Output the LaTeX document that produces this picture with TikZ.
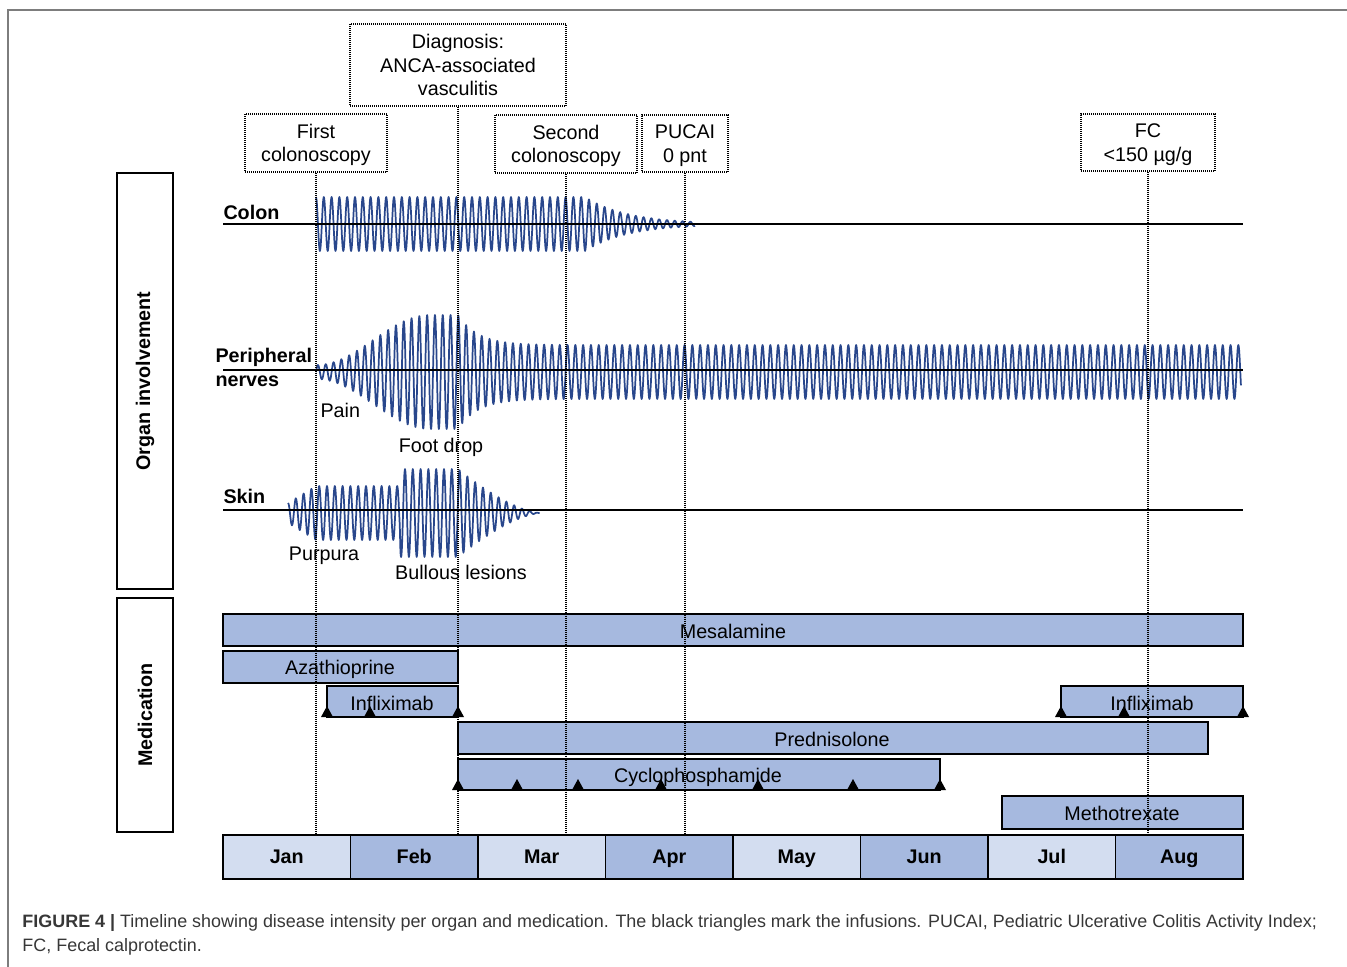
\documentclass[tikz,border=0pt]{standalone}
\usepackage{fontspec}
\setmainfont{Liberation Sans}
\definecolor{wavecol}{RGB}{41,71,140}
\definecolor{barfill}{RGB}{166,185,223}
\definecolor{monlight}{RGB}{211,221,240}
\definecolor{mondark}{RGB}{166,185,223}
\definecolor{capgray}{RGB}{55,55,55}
\definecolor{framegray}{RGB}{125,125,125}
\tikzset{every picture/.style={line width=0.75pt}}
\tikzset{
  guide/.style={line width=1pt, dash pattern=on 0.75pt off 0.75pt},
  eventbox/.style={draw, line width=1pt, dash pattern=on 0.75pt off 0.75pt, align=center, inner sep=0pt, text depth=0pt},
  groupbox/.style={draw, line width=1.1pt},
  medbar/.style={draw, fill=barfill, line width=1.1pt},
  barlabel/.style={anchor=base, inner sep=0pt},
  monthcell/.style={draw, line width=1.4pt},
  wave/.style={wavecol, line width=1.3pt, line join=round},
  baseline/.style={line width=1.2pt},
}

\begin{document}
\begin{tikzpicture}[x=0.75pt,y=0.75pt,yscale=-1,xscale=1,
  font=\fontsize{14.8}{17.6}\selectfont,
  declare function={
    colamp(\q)=27*exp(-max(\q-585,0)/43);
    nerveamp(\q)=min(7+25*(1-cos(1.5789*min(\q-316,114))),27+30*exp(-max(\q-458,0)/20));
    skinamp(\q)=min(min(10+0.6071*max(\q-288,0),27)+17*(\q>399.9),44*pow(max(540-\q,0.5)/82,1.5));
  }]
\useasboundingbox (0,0) rectangle (1347,967);

%Frame
\draw [framegray, line width=1.1pt] (8,967) -- (8,10) -- (1347,10) ;

%Group boxes
\draw [groupbox] (117,173) rectangle (173,589) ;
\draw [groupbox] (117,598) rectangle (173,832) ;
\node [rotate=90, font=\fontsize{14.8}{17.6}\selectfont\bfseries] (organ) at (145,381) {Organ involvement};
\node [rotate=90, font=\fontsize{14.8}{17.6}\selectfont\bfseries] (medic) at (145,715) {Medication};

%Event boxes
\node [eventbox, minimum width=162pt, minimum height=61.5pt] (diag) at (458,65) {Diagnosis:\\ANCA-associated\\vasculitis};
\node [eventbox, minimum width=106.5pt, minimum height=43.5pt] (colo1) at (316,143) {First\\colonoscopy};
\node [eventbox, minimum width=106.5pt, minimum height=43.5pt] (colo2) at (566,144) {Second\\colonoscopy};
\node [eventbox, minimum width=64.5pt, minimum height=42.75pt] (pucai) at (685,143.5) {PUCAI\\0 pnt};
\node [eventbox, minimum width=100.5pt, minimum height=42.75pt] (fc) at (1148,142.5) {FC\\<150 µg/g};

%Colon
\draw [wave] plot [smooth, domain=316:694.95, samples=584] (\x,{224-colamp(\x)*cos(46.1538*mod(\x-316,7.8))}) ;
\draw [baseline] (223,224) -- (1243,224) ;
\node [anchor=west, font=\fontsize{14.8}{17.6}\selectfont\bfseries, inner sep=0pt] (colon) at (223,212) {Colon};

%Peripheral nerves
\draw [wave] plot [smooth, domain=316:1240.95, samples=1424] (\x,{372-nerveamp(\x)*sin(46.1538*mod(\x-316,7.8))}) ;
\draw [baseline] (223,370) -- (1243,370) ;
\node [anchor=west, font=\fontsize{14.8}{17.6}\selectfont\bfseries, inner sep=0pt] (periph) at (215,357) {Peripheral};
\node [anchor=west, font=\fontsize{14.8}{17.6}\selectfont\bfseries, inner sep=0pt] (nerves) at (215,381) {nerves};
\node [anchor=west, inner sep=0pt] (pain) at (320,410) {Pain};
\node [inner sep=0pt] (footdrop) at (441,447) {Foot drop};

%Skin
\draw [wave] plot [smooth, domain=288:539.55, samples=388] (\x,{513-skinamp(\x)*cos(46.1538*mod(\x-288,7.8))}) ;
\draw [baseline] (223,510) -- (1243,510) ;
\node [anchor=west, font=\fontsize{14.8}{17.6}\selectfont\bfseries, inner sep=0pt] (skin) at (223,496) {Skin};
\node [inner sep=0pt] (purpura) at (324,556) {Purpura};
\node [inner sep=0pt] (bullous) at (461,572) {Bullous lesions};

%Medication bars
\draw [medbar] (223,614) rectangle (1243,646) ;
\node [barlabel] (mesa) at (733,638) {Mesalamine};
\draw [medbar] (223,651) rectangle (458,683) ;
\node [barlabel] (aza) at (340,674) {Azathioprine};
\draw [medbar] (327,686) rectangle (458,717) ;
\node [barlabel] (infl1) at (392,710) {Infliximab};
\draw [medbar] (1061,686) rectangle (1243,717) ;
\node [barlabel] (infl2) at (1152,710) {Infliximab};
\draw [medbar] (458,722) rectangle (1208,754) ;
\node [barlabel] (pred) at (832,746) {Prednisolone};
\draw [medbar] (458,759) rectangle (940,790) ;
\node [barlabel] (cyclo) at (698,782) {Cyclophosphamide};
\draw [medbar] (1002,796) rectangle (1243,829) ;
\node [barlabel] (mtx) at (1122,820) {Methotrexate};

%Infusions
\foreach \t in {327,370,458,1061,1124,1243}
  \fill (\t-6,717) -- (\t+6,717) -- (\t,706) -- cycle ;
\foreach \t in {458,517,578,661,758,853,940}
  \fill (\t-6,790) -- (\t+6,790) -- (\t,779) -- cycle ;

%Months
\foreach \m/\c [count=\i from 0] in {Jan/monlight,Feb/mondark,Mar/monlight,Apr/mondark,May/monlight,Jun/mondark,Jul/monlight,Aug/mondark}
{
  \draw [monthcell, fill=\c] ({223+127.5*\i},835) rectangle ++(127.5,44) ;
  \node [barlabel, font=\fontsize{14.8}{17.6}\selectfont\bfseries] (m\i) at ({286.75+127.5*\i},863) {\m};
}
\coordinate (mtop) at (0,835);

%Guides
\draw [guide] (colo1.south) -- (colo1.south |- mtop) ;
\draw [guide] (diag.south) -- (diag.south |- mtop) ;
\draw [guide] (colo2.south) -- (colo2.south |- mtop) ;
\draw [guide] (pucai.south) -- (pucai.south |- mtop) ;
\draw [guide] (fc.south) -- (fc.south |- mtop) ;

% Caption
\node [anchor=west, inner sep=0pt, text=capgray, font=\fontsize{13.45}{15}\selectfont] (cap1) at (22,923) {\textbf{FIGURE 4 |} Timeline showing disease intensity per organ and medication. The black triangles mark the infusions. PUCAI, Pediatric Ulcerative Colitis Activity Index;};
\node [anchor=west, inner sep=0pt, text=capgray, font=\fontsize{13.45}{15}\selectfont] (cap2) at (22,947) {FC, Fecal calprotectin.};

\end{tikzpicture}
\end{document}
